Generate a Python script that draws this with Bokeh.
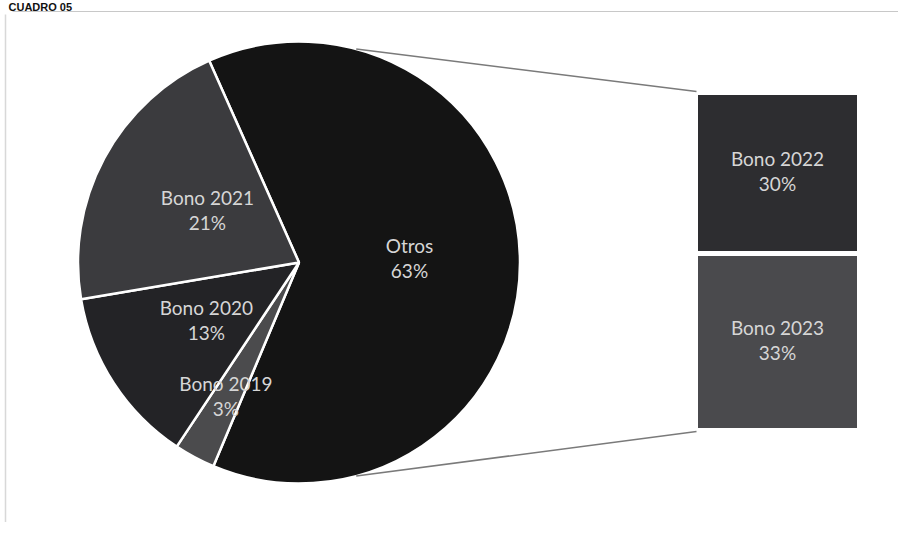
import numpy as np
from bokeh.plotting import figure
from bokeh.models import Range1d
from bokeh.core.properties import value
from bokeh.embed import file_html
from bokeh.resources import INLINE

# ---- data ----
title_text = "CUADRO 05"
pie_labels = ["Otros", "Bono 2019", "Bono 2020", "Bono 2021"]
pie_values = [63, 3, 13, 21]
bar_labels = ["Bono 2023", "Bono 2022"]   # bottom to top
bar_values = [33, 30]

# ---- styles ----
pie_colors = ["#141414", "#4b4b4d", "#232326", "#3b3b3e"]
bar_colors = ["#4a4a4d", "#2d2d30"]
label_frac = [0.5, 0.70, 0.5, 0.47]
FONT = value("Lato")
TXT = "#d6d6d6"
FS = "19px"
LH = 1.08

W, H = 898, 522
OX, OY = 0, 0   # page offset of the figure
p = figure(width=W, height=H, output_backend="svg", toolbar_location=None,
           x_range=Range1d(OX, OX + W), y_range=Range1d(538 - OY - H, 538 - OY),
           min_border=0)
p.axis.visible = False
p.grid.visible = False
p.outline_line_color = None
p.background_fill_color = "white"
p.border_fill_color = "white"

# pie geometry (image px -> data: y = 538 - img_y)
cx, cy, R = 298.5, 538 - 262, 221
start_cw = -24.0  # degrees clockwise from 12 o'clock where first slice starts

vals = np.array(pie_values, dtype=float)
frac = vals / vals.sum()
cum = np.concatenate([[0], np.cumsum(frac)]) * 360.0
s_cw = start_cw + cum[:-1]
e_cw = start_cw + cum[1:]
start_ang = np.radians(90 - s_cw)
end_ang = np.radians(90 - e_cw)

p.wedge(x=[cx] * len(vals), y=[cy] * len(vals), radius=R,
        start_angle=list(start_ang), end_angle=list(end_ang), direction="clock",
        fill_color=pie_colors, line_color="white", line_width=2.5)

# pie labels
mid_cw = np.radians((s_cw + e_cw) / 2)
for i, (lab, v) in enumerate(zip(pie_labels, pie_values)):
    lx = cx + label_frac[i] * R * np.sin(mid_cw[i])
    ly = cy + label_frac[i] * R * np.cos(mid_cw[i]) + 3
    p.text(x=[lx], y=[ly], text=[f"{lab}\n{v}%"], text_font=FONT,
           text_font_size=FS, text_color=TXT, text_align="center",
           text_baseline="middle", text_line_height=LH)

# bar of pie
bx, bw = 777, 164
by0 = 538 - 430
scale = 338 / sum(bar_values)
bv = np.array(bar_values, dtype=float)
bottoms = by0 + np.concatenate([[0], np.cumsum(bv)[:-1]]) * scale
tops = by0 + np.cumsum(bv) * scale
p.quad(left=bx - bw / 2, right=bx + bw / 2, bottom=list(bottoms), top=list(tops),
       fill_color=bar_colors, line_color="white", line_width=5)
for lab, v, b, t in zip(bar_labels, bar_values, bottoms, tops):
    p.text(x=[bx], y=[(b + t) / 2 + 2], text=[f"{lab}\n{v}%"], text_font=FONT,
           text_font_size=FS, text_color=TXT, text_align="center",
           text_baseline="middle", text_line_height=LH)

# connector lines
ang_c = np.radians(15)
p.line(x=[cx + R * np.sin(ang_c), bx - bw / 2 + 1], y=[cy + R * np.cos(ang_c), tops[-1] + 1],
       line_color="#7a7a7a", line_width=1.5)
p.line(x=[cx + R * np.sin(ang_c), bx - bw / 2 + 1], y=[cy - R * np.cos(ang_c), bottoms[0] - 1],
       line_color="#7a7a7a", line_width=1.5)

# scan frame
p.line(x=[12, 898], y=[538 - 11, 538 - 11], line_color="#c8c8c8", line_width=1)
p.line(x=[5, 5], y=[538 - 14, 538 - 522], line_color="#d8d8d8", line_width=1.5)
p.text(x=[8], y=[538 - 0], text=[title_text], text_font=value("Liberation Sans"),
       text_font_size="11px", text_font_style="bold", text_color="#111111",
       text_baseline="top", text_align="left")

open("out.html", "w").write(file_html(p, INLINE))
